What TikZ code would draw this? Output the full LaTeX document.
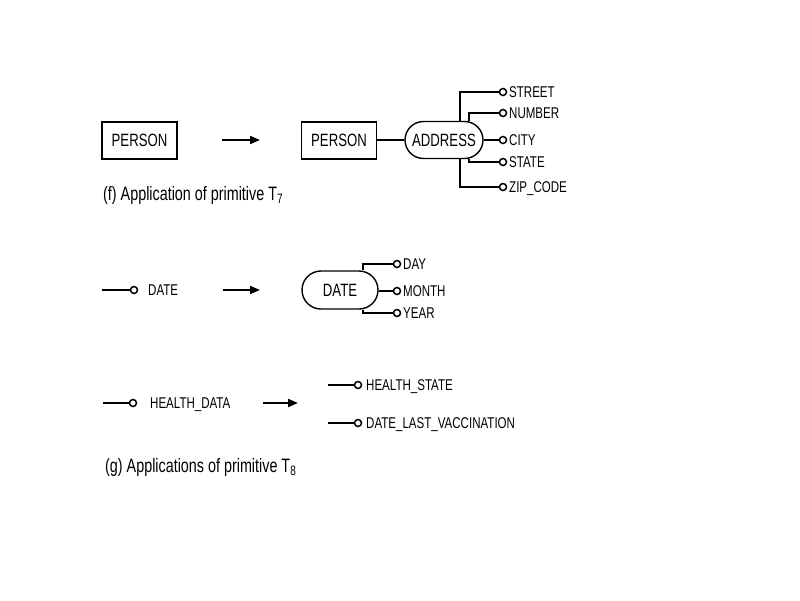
\documentclass[tikz,border=0pt]{standalone}
\usepackage{fontspec}
\setmainfont{Liberation Sans}[FakeStretch=0.74]
\usetikzlibrary{shapes.misc,arrows.meta}
\tikzset{
  lbl/.style={font=\fontsize{15.6}{17}\selectfont, inner sep=0, anchor=base west},
  att/.style={circle, draw, line width=1.5pt, inner sep=0, minimum size=7pt},
  ent/.style={draw, line width=1.4pt, minimum width=75pt, minimum height=37pt, font=\fontsize{17.8}{19}\selectfont, inner sep=0},
  relshape/.style={rounded rectangle, draw, line width=1.4pt, minimum height=37pt, font=\fontsize{17.8}{19}\selectfont, inner sep=0},
  capt/.style={font=\fontsize{19.4}{21}\selectfont, inner sep=0, anchor=base west},
  conn/.style={line width=1.6pt},
  trans/.style={line width=2pt, -{Triangle[length=10pt,width=8pt]}}
}
\begin{document}
\begin{tikzpicture}[x=1pt,y=-1pt]
\useasboundingbox (0,0) rectangle (800,600);
% ---------- row 1 ----------
\node[ent] (p1) at (139.5,140.5) {PERSON};
\coordinate (a1s) at (222,140);
\coordinate (a1e) at (260,140);
\draw[trans] (a1s) -- (a1e);
\node[ent] (p2) at (339,140.5) {PERSON};
\node[relshape, minimum width=78pt] (addr) at (444,140) {ADDRESS};
\draw[conn] (p2.east |- addr.west) -- (addr.west);
\node[att] (st) at (503,92) {};
\node[att] (nu) at (503,113) {};
\node[att] (ci) at (503,140) {};
\node[att] (sa) at (503,162) {};
\node[att] (zi) at (503,187) {};
\node[lbl] (stl) at (509,97.5) {STREET};
\node[lbl] (nul) at (509,118.5) {NUMBER};
\node[lbl] (cil) at (509,145.5) {CITY};
\node[lbl] (sal) at (509,167.5) {STATE};
\node[lbl] (zil) at (509,192.5) {ZIP\_CODE};
\coordinate (vo) at (460,0);
\coordinate (vi) at (469,0);
\draw[conn] (st.west) -| (vo |- addr.north);
\draw[conn] (nu.west) -| (vi |- addr.north);
\draw[conn] (addr.east) -- (ci.west);
\draw[conn] (sa.west) -| (vi |- addr.south);
\draw[conn] (zi.west) -| (vo |- addr.south);
\node[capt] (capf) at (103,200) {(f) Application of primitive T\textsubscript{7}};
% ---------- row 2 ----------
\coordinate (d0) at (102,290);
\node[att] (dc) at (134,290) {};
\draw[conn] (d0) -- (dc.west);
\node[lbl] (dl) at (148,295.5) {DATE};
\coordinate (a2s) at (223,290);
\coordinate (a2e) at (260,290);
\draw[trans] (a2s) -- (a2e);
\node[relshape, minimum width=76pt, minimum height=38pt] (date) at (340,290) {DATE};
\node[att] (dy) at (397,264) {};
\node[att] (mo) at (397,291) {};
\node[att] (yr) at (397,313) {};
\node[lbl] (dyl) at (403,269.5) {DAY};
\node[lbl] (mol) at (403,296.5) {MONTH};
\node[lbl] (yrl) at (403,318.5) {YEAR};
\coordinate (vd) at (363,0);
\draw[conn] (dy.west) -| (vd |- date.north);
\draw[conn] (date.east |- mo) -- (mo.west);
\draw[conn] (yr.west) -| (vd |- date.south);
% ---------- row 3 ----------
\coordinate (h0) at (103,403);
\node[att] (hc) at (133,403) {};
\draw[conn] (h0) -- (hc.west);
\node[lbl] (hl) at (150,408.5) {HEALTH\_DATA};
\coordinate (a3s) at (263,403);
\coordinate (a3e) at (298,403);
\draw[trans] (a3s) -- (a3e);
\coordinate (hs0) at (328,385);
\node[att] (hsc) at (358,385) {};
\draw[conn] (hs0) -- (hsc.west);
\node[lbl] (hsl) at (366,390.5) {HEALTH\_STATE};
\coordinate (dv0) at (328,423);
\node[att] (dvc) at (358,423) {};
\draw[conn] (dv0) -- (dvc.west);
\node[lbl] (dvl) at (366,428.5) {DATE\_LAST\_VACCINATION};
\node[capt] (capg) at (105,472) {(g) Applications of primitive T\textsubscript{8}};
\end{tikzpicture}
\end{document}
